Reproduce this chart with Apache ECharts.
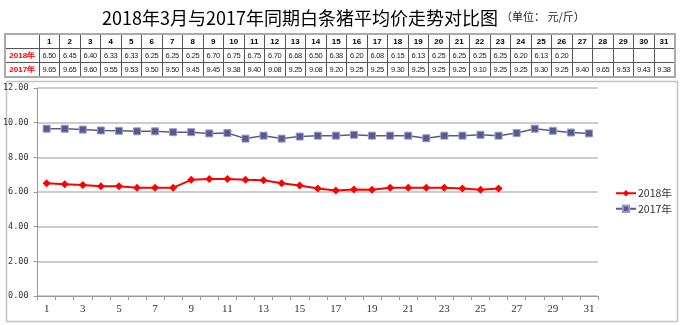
<!DOCTYPE html>
<html>
<head>
<meta charset="utf-8">
<script src="https://cdn.jsdelivr.net/npm/echarts@6/dist/echarts.min.js"></script>
<style>
  html, body { margin: 0; padding: 0; background: #fff; }
  #wrap { position: relative; width: 680px; height: 325px; }
  #chart { position: absolute; left: 0; top: 0; width: 680px; height: 325px; }
  #tbl {
    position: absolute; left: 4px; top: 33px;
    border-collapse: collapse; table-layout: fixed;
    border: 2px solid #aaa;
    font-family: "Liberation Sans", Arial, sans-serif;
  }
  #tbl td {
    border: 1px solid #555; height: 13px; padding: 0;
    text-align: center; font-size: 7.5px; color: #222;
    letter-spacing: -0.3px; overflow: hidden; white-space: nowrap;
  }
  #tbl tr.head td { font-weight: bold; font-size: 8px; color: #000; letter-spacing: 0; }
  #tbl td.lab { color: #ff0000; font-weight: bold; font-size: 8px; letter-spacing: 0; }
</style>
</head>
<body>
<div id="wrap">
  <div id="chart"></div>
  <table id="tbl"></table>
</div>
<script>
// Days of March
const days = ['1','2','3','4','5','6','7','8','9','10','11','12','13','14','15','16',
              '17','18','19','20','21','22','23','24','25','26','27','28','29','30','31'];

// Average price of white-strip pork (yuan / jin)
const price2018 = [6.50, 6.45, 6.40, 6.33, 6.33, 6.25, 6.25, 6.25, 6.70, 6.75, 6.75,
                   6.70, 6.68, 6.50, 6.38, 6.20, 6.08, 6.15, 6.13, 6.25, 6.25, 6.25,
                   6.25, 6.20, 6.13, 6.20, null, null, null, null, null];
const price2017 = [9.65, 9.65, 9.60, 9.55, 9.53, 9.50, 9.50, 9.45, 9.45, 9.38, 9.40,
                   9.08, 9.25, 9.08, 9.20, 9.25, 9.25, 9.30, 9.25, 9.25, 9.25, 9.10,
                   9.25, 9.25, 9.30, 9.25, 9.40, 9.65, 9.53, 9.43, 9.38];

const seriesNames = ['2018年', '2017年'];
const titleText = '2018年3月与2017年同期白条猪平均价走势对比图';
const unitText = '（单位： 元/斤）';

// Data table above the plot
(function buildTable() {
  const tbl = document.getElementById('tbl');
  let html = '<colgroup><col style="width:34px">';
  days.forEach(() => { html += '<col style="width:20.5px">'; });
  html += '</colgroup>';
  html += '<tr class="head"><td></td>' + days.map(d => '<td>' + d + '</td>').join('') + '</tr>';
  const rows = [[seriesNames[0], price2018], [seriesNames[1], price2017]];
  rows.forEach(([name, vals]) => {
    html += '<tr><td class="lab">' + name + '</td>' +
      vals.map(v => '<td>' + (v == null ? '' : v.toFixed(2)) + '</td>').join('') + '</tr>';
  });
  tbl.innerHTML = html;
})();

const chart = echarts.init(document.getElementById('chart'), null, { renderer: 'canvas' });

chart.setOption({
  animation: false,
  backgroundColor: '#fff',
  title: {
    text: titleText,
    left: 97, top: 4,
    textStyle: { fontFamily: '"Noto Sans CJK SC"', fontSize: 18, fontWeight: 'normal', color: '#000' }
  },
  graphic: [
    {
      type: 'text', left: 501, top: 11,
      style: { text: unitText, font: '11px "Noto Sans CJK SC"', fill: '#222' }
    },
    {
      type: 'rect', left: 4, top: 79, silent: true, z: -1,
      shape: { width: 671, height: 240 },
      style: { fill: 'none', stroke: '#c4c4c4', lineWidth: 1.5 }
    }
  ],
  legend: {
    orient: 'vertical',
    left: 610, top: 183,
    itemWidth: 20, itemHeight: 8, itemGap: 5,
    data: seriesNames,
    textStyle: { fontFamily: '"Noto Sans CJK SC"', fontSize: 10.5, color: '#333', padding: [0, 0, 0, -3] }
  },
  grid: { left: 37, right: 82, top: 88, bottom: 29 },
  xAxis: {
    type: 'category',
    data: days,
    boundaryGap: true,
    axisLine: { lineStyle: { color: '#999', width: 1 } },
    axisTick: { show: true, alignWithLabel: false, interval: 0, length: 4, lineStyle: { color: '#999' } },
    axisLabel: { interval: 1, color: '#333', fontFamily: '"Liberation Serif", serif', fontSize: 11, margin: 8 },
    splitLine: { show: false }
  },
  yAxis: {
    type: 'value',
    min: 0, max: 12, interval: 2,
    axisLine: { show: true, lineStyle: { color: '#999', width: 1 } },
    axisTick: { show: true, length: 4, lineStyle: { color: '#999' } },
    axisLabel: {
      color: '#333', fontFamily: '"DejaVu Sans Mono", monospace', fontSize: 8.5, margin: 9,
      formatter: v => v.toFixed(2)
    },
    splitLine: { lineStyle: { color: '#bdbdbd', width: 1.5 } }
  },
  series: [
    {
      name: seriesNames[0],
      type: 'line',
      data: price2018,
      connectNulls: false,
      symbol: 'diamond',
      symbolSize: 8,
      color: '#ff0000',
      lineStyle: { color: '#ff0000', width: 2 },
      itemStyle: { color: '#ff0000' }
    },
    {
      name: seriesNames[1],
      type: 'line',
      data: price2017,
      symbol: 'rect',
      symbolSize: 7,
      color: '#575a91',
      lineStyle: { color: '#575a91', width: 1.5 },
      itemStyle: { color: '#575a91', borderColor: '#9a9cc4', borderWidth: 1 }
    }
  ]
});
</script>
</body>
</html>
